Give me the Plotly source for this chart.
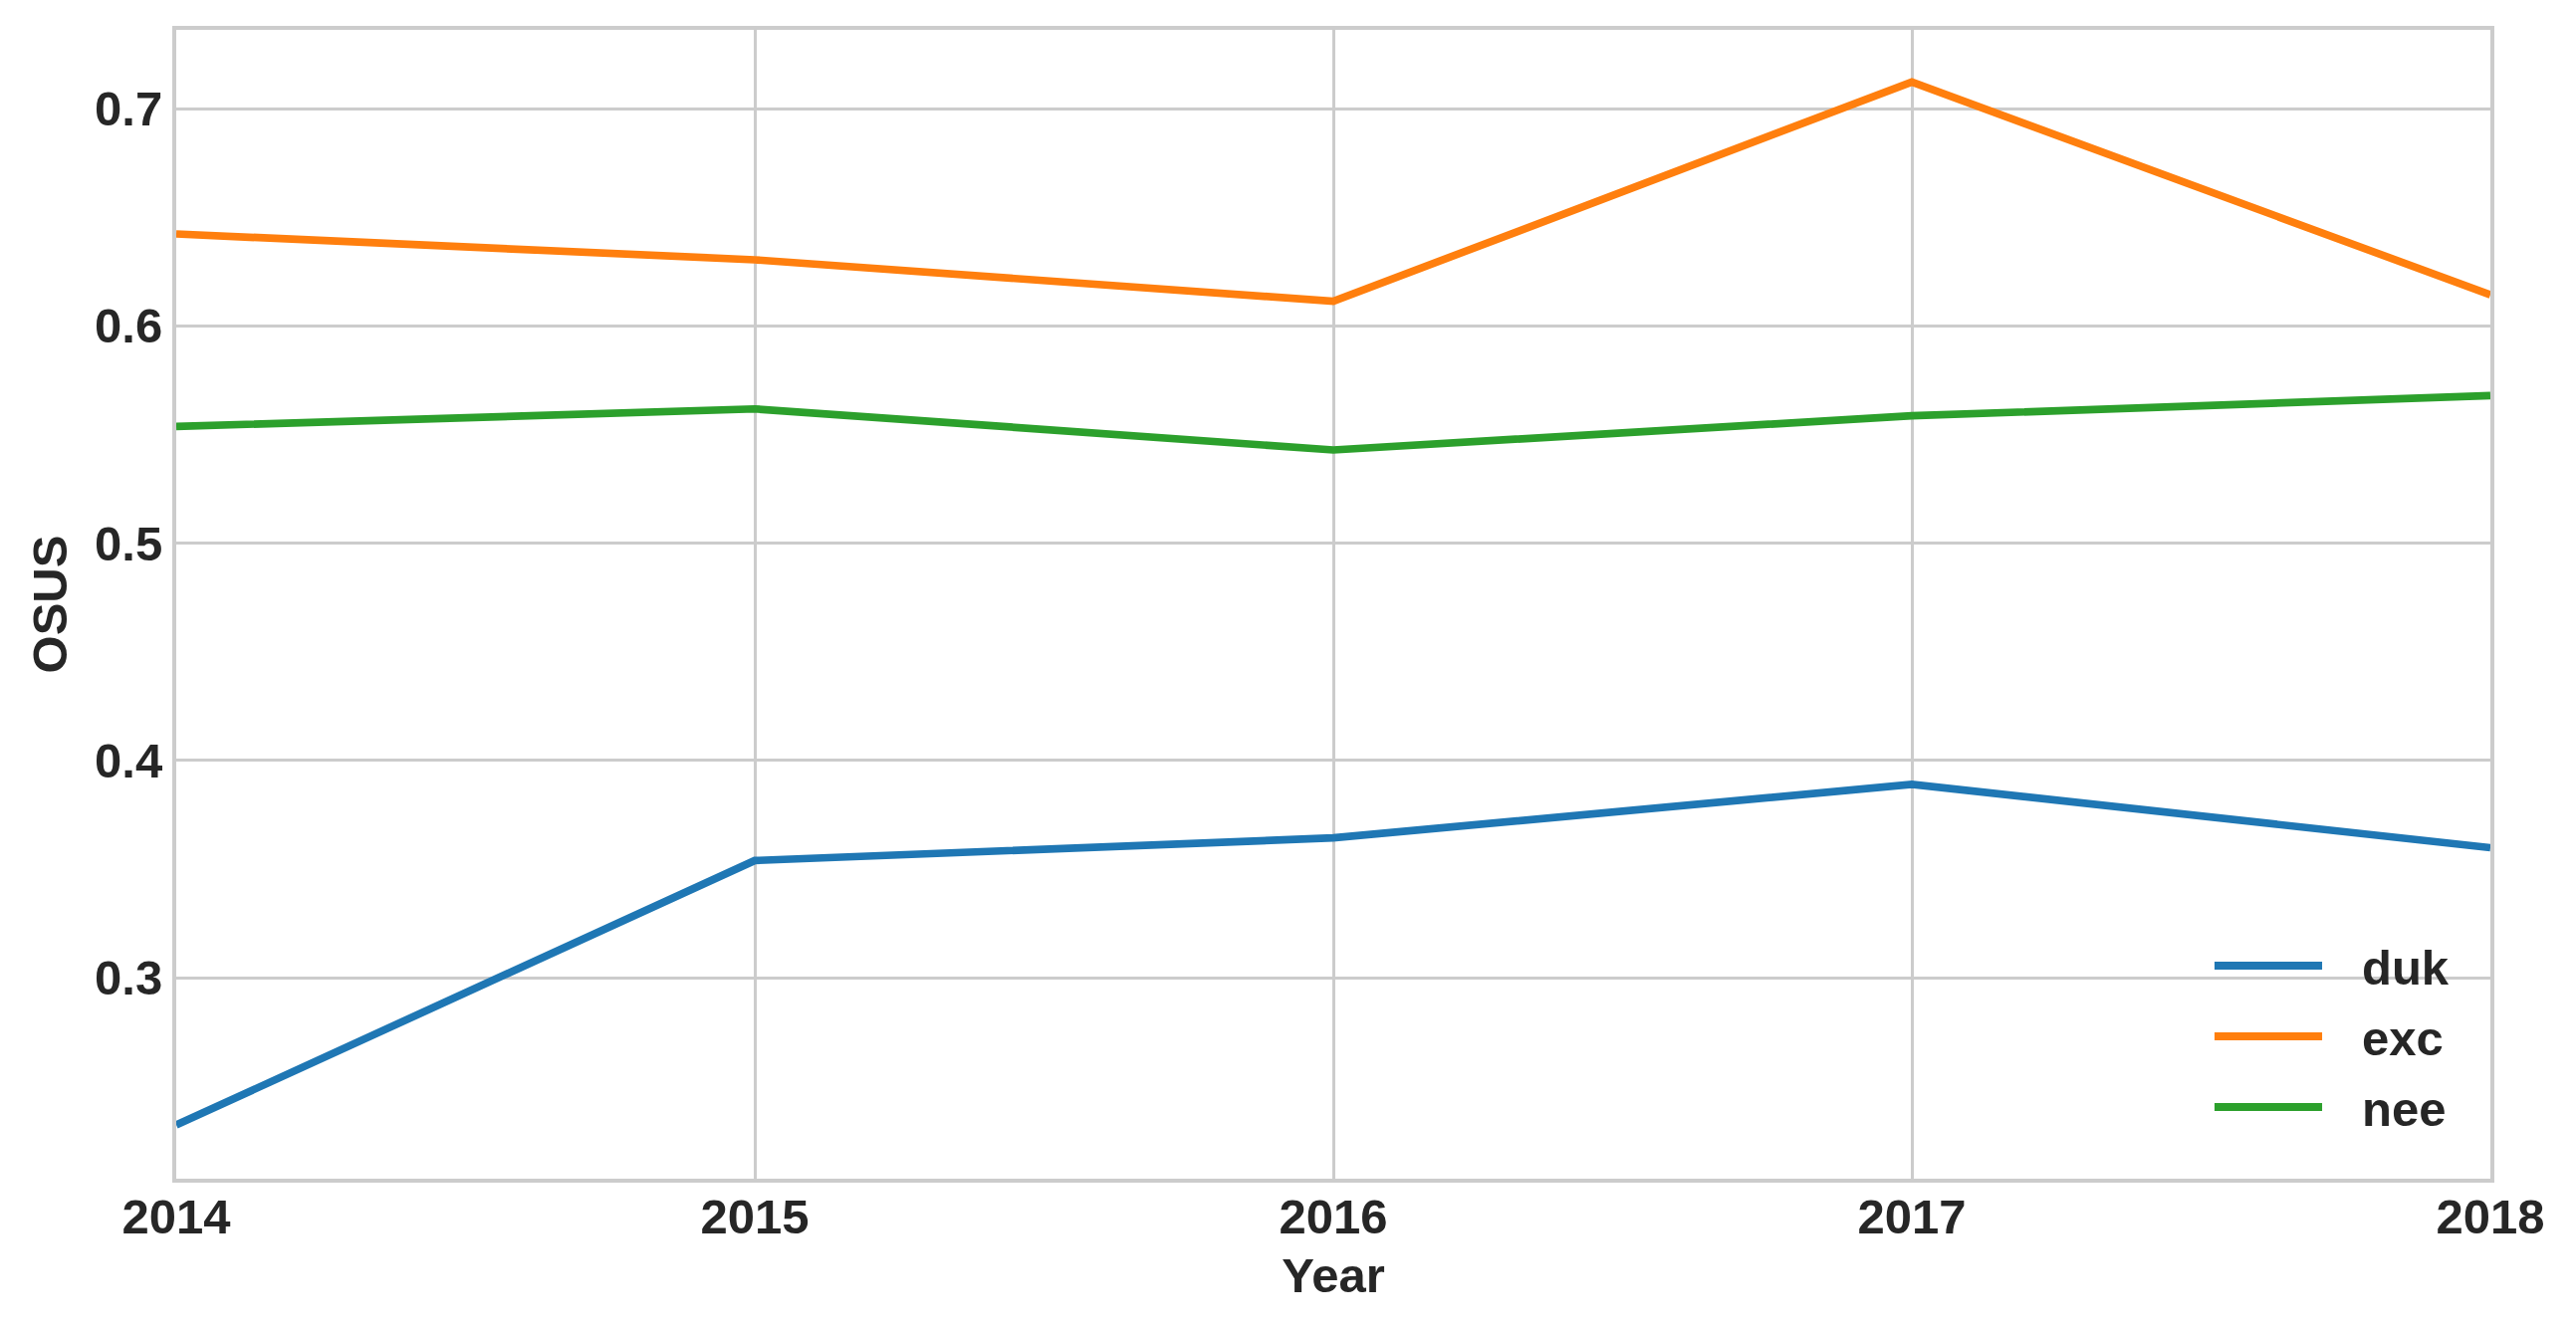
import plotly.graph_objects as go

years = [2014, 2015, 2016, 2017, 2018]
duk = [0.2323, 0.3540, 0.3644, 0.3890, 0.3599]
exc = [0.6423, 0.6304, 0.6113, 0.7122, 0.6143]
nee = [0.5537, 0.5618, 0.5429, 0.5586, 0.5679]
series_names = ["duk", "exc", "nee"]
series_colors = ["#1f77b4", "#ff7f0e", "#2ca02c"]
y_ticks = [0.3, 0.4, 0.5, 0.6, 0.7]

FONT = dict(family="Liberation Sans, Arial, sans-serif", size=49, color="#262626", weight="bold")

fig = go.Figure()
for name, vals, col in zip(series_names, [duk, exc, nee], series_colors):
    fig.add_trace(go.Scatter(x=years, y=vals, mode="lines", name=name,
                             line=dict(color=col, width=7.7)))

# legend drawn in paper coordinates (long line samples like the reference)
leg_y = [0.1854, 0.1239, 0.0624]
for name, col, ly in zip(series_names, series_colors, leg_y):
    fig.add_shape(type="line", xref="paper", yref="paper",
                  x0=0.8808, x1=0.9273, y0=ly, y1=ly,
                  line=dict(color=col, width=8))
    fig.add_annotation(xref="paper", yref="paper", x=0.9436, y=ly - 0.0015,
                       text=name, showarrow=False, xanchor="left", yanchor="middle",
                       font=FONT)

fig.update_layout(
    width=2571, height=1322,
    margin=dict(l=169, r=78, t=22, b=146),
    paper_bgcolor="white", plot_bgcolor="white",
    font=FONT,
    showlegend=False,
    xaxis=dict(range=[2014, 2018], tickvals=years, ticktext=[str(y) for y in years],
               showgrid=True, gridcolor="#cccccc", gridwidth=3,
               showline=True, linecolor="#cccccc", linewidth=4, mirror=True,
               ticks="", zeroline=False, tickfont=FONT, ticklabelstandoff=-8,
               title=dict(text="Year", font=FONT, standoff=17)),
    yaxis=dict(range=[0.2076, 0.7362], tickvals=y_ticks, ticktext=[str(v) for v in y_ticks],
               showgrid=True, gridcolor="#cccccc", gridwidth=3,
               showline=True, linecolor="#cccccc", linewidth=4, mirror=True,
               ticks="", zeroline=False, tickfont=FONT,
               title=dict(text="OSUS", font=FONT, standoff=13)),
)

fig.write_html("out.html")
